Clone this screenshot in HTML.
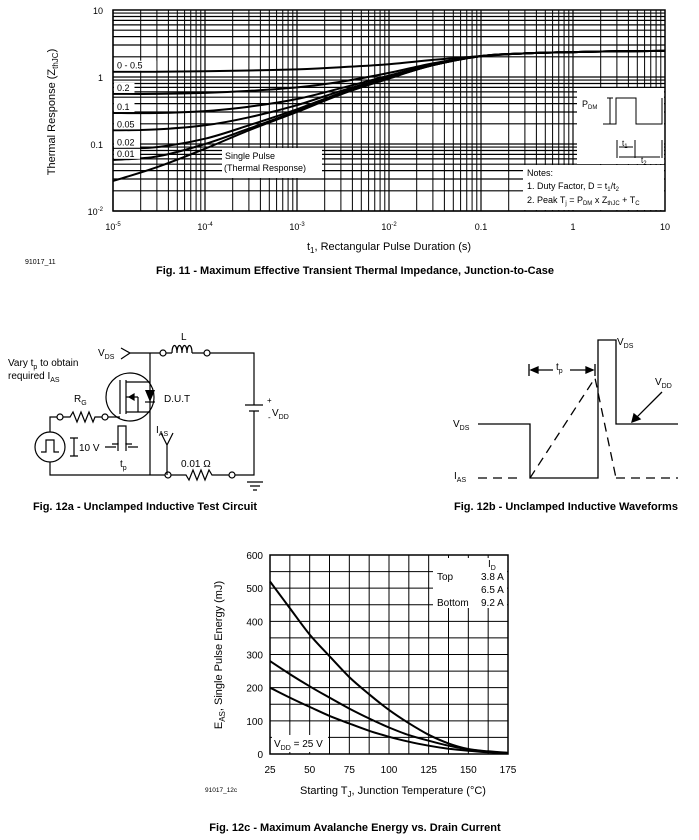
<!DOCTYPE html>
<html><head><meta charset="utf-8">
<style>
body{margin:0;background:#fff;}
svg{display:block;font-family:"Liberation Sans",Arial,sans-serif;}
</style></head>
<body>
<svg id="s" width="699" height="840" viewBox="0 0 699 840" xmlns="http://www.w3.org/2000/svg">
<g id="fig11"></g>
<g id="fig12c"></g>

<text x="55" y="112" font-size="11" text-anchor="middle" transform="rotate(-90 55 112)">Thermal Response (Z<tspan font-size="8" dy="3">thJC</tspan><tspan dy="-3">)</tspan></text>
<text x="389" y="250" font-size="11" text-anchor="middle">t<tspan font-size="8" dy="3">1</tspan><tspan dy="-3">, Rectangular Pulse Duration (s)</tspan></text>
<text x="25" y="264" font-size="7">91017_11</text>
<text x="355" y="274" font-size="11" font-weight="bold" text-anchor="middle">Fig. 11 - Maximum Effective Transient Thermal Impedance, Junction-to-Case</text>

<g stroke="#000" stroke-width="1.2" fill="none">
<path d="M121 348 L130 353 L121 359"/>
<path d="M130 353 H160 M166 353 H172 M192 353 H204 M210 353 H254 V405 M245 405 H263 M249 411 H259 M254 411 V475 H235 M229 475 H212 L209 470 L205 480 L201 470 L197 480 L193 470 L189 480 L186 475 H171 M165 475 H50 V462 M50 432 V417 H57 M63 417 H70 L73 412 L77 422 L81 412 L85 422 L89 412 L93 422 L95 417 H102"/>
<path d="M172 353 c0 -10 5 -10 5 0 c0 -10 5 -10 5 0 c0 -10 5 -10 5 0 c0 -10 5 -10 5 0"/>
<circle cx="163" cy="353" r="3" fill="#fff"/><circle cx="207" cy="353" r="3" fill="#fff"/>
<circle cx="60" cy="417" r="3" fill="#fff"/><circle cx="105" cy="417" r="3" fill="#fff"/>
<circle cx="168" cy="475" r="3" fill="#fff"/><circle cx="232" cy="475" r="3" fill="#fff"/>
<circle cx="130" cy="397" r="24"/>
<path d="M150 353 V475 M108 417 H120 M120 380 V414 M126 380 V414 M126 382 H150 M126 397 H138 M126 412 H150 M138 397 V412 M150 382 V412"/>
<path d="M145 390 L150 402 L155 390 Z" fill="#000" stroke="none"/>
<path d="M145 402 H155"/>
<path d="M129 397 L134 394 L134 400 Z" fill="#000"/>
<circle cx="50" cy="447" r="15"/>
<path d="M41 452 H46 V440 H54 V452 H59"/>
<path d="M74 438 V456 M70 438 H78 M70 456 H78"/>
<path d="M112 444 H118 V426 H126 V444 H132"/>
<path d="M105 447 H116 M118 443 V451 M126 443 V451 M128 447 H138"/>
<path d="M161 433 L167 445 L173 433 M167 445 V475"/>
<path d="M247 482 H263 M250 486 H260 M253 490 H257"/>
</g>
<g font-size="10">
<text x="98" y="356">V<tspan font-size="7" dy="3">DS</tspan></text>
<text x="181" y="340">L</text>
<text x="8" y="366">Vary t<tspan font-size="7" dy="3">p</tspan><tspan dy="-3"> to obtain</tspan></text>
<text x="8" y="379">required I<tspan font-size="7" dy="3">AS</tspan></text>
<text x="74" y="402">R<tspan font-size="7" dy="3">G</tspan></text>
<text x="164" y="402">D.U.T</text>
<text x="267" y="403" font-size="8">+</text>
<text x="272" y="416">V<tspan font-size="7" dy="3">DD</tspan></text>
<text x="268" y="420" font-size="8">-</text>
<text x="156" y="433">I<tspan font-size="7" dy="3">AS</tspan></text>
<text x="79" y="451">10 V</text>
<text x="120" y="467">t<tspan font-size="7" dy="3">p</tspan></text>
<text x="181" y="467">0.01 Ω</text>
</g>
<text x="145" y="510" font-size="11" font-weight="bold" text-anchor="middle">Fig. 12a - Unclamped Inductive Test Circuit</text>

<g stroke="#000" stroke-width="1.3" fill="none">
<path d="M478 424 H530 V478 H598 V340 H616 V424 H678"/>
<path d="M478 478 H518 M530 478 L595 378 L616 478 M616 478 H678" stroke-dasharray="9 6"/>
<path d="M529 364 V376 M595 364 V376 M531 370 H553 M570 370 H593"/>
<path d="M531 370 L538 367 L538 373 Z M593 370 L586 367 L586 373 Z" fill="#000"/>
<path d="M662 392 L634 420"/>
<path d="M632 422 L634 414 L640 419 Z" fill="#000"/>
</g>
<g font-size="10">
<text x="556" y="370">t<tspan font-size="7" dy="3">p</tspan></text>
<text x="617" y="345">V<tspan font-size="7" dy="3">DS</tspan></text>
<text x="655" y="385">V<tspan font-size="7" dy="3">DD</tspan></text>
<text x="453" y="427">V<tspan font-size="7" dy="3">DS</tspan></text>
<text x="454" y="479">I<tspan font-size="7" dy="3">AS</tspan></text>
</g>
<text x="566" y="510" font-size="11" font-weight="bold" text-anchor="middle">Fig. 12b - Unclamped Inductive Waveforms</text>

<text x="222" y="655" font-size="11" text-anchor="middle" transform="rotate(-90 222 655)">E<tspan font-size="8" dy="3">AS</tspan><tspan dy="-3">, Single Pulse Energy (mJ)</tspan></text>
<text x="393" y="794" font-size="11" text-anchor="middle">Starting T<tspan font-size="8" dy="3">J</tspan><tspan dy="-3">, Junction Temperature (°C)</tspan></text>
<text x="205" y="792" font-size="6.5">91017_12c</text>
<text x="355" y="831" font-size="11" font-weight="bold" text-anchor="middle">Fig. 12c - Maximum Avalanche Energy vs. Drain Current</text>
</svg>
<script>
const NS='http://www.w3.org/2000/svg';
const f11Times=[1e-5,3e-5,1e-4,3e-4,1e-3,3e-3,1e-2,3e-2,0.1,0.3,1,3,10];
const f11Single=[0.028,0.045,0.085,0.16,0.30,0.55,0.95,1.5,2.05,2.25,2.35,2.42,2.45];
const f11D001=[0.058,0.065,0.10,0.17,0.31,0.56,0.96,1.5,2.05,2.25,2.35,2.42,2.45];
const f11D002=[0.085,0.09,0.12,0.19,0.33,0.58,0.98,1.5,2.05,2.25,2.35,2.42,2.45];
const f11D005=[0.16,0.165,0.19,0.25,0.38,0.62,1.0,1.55,2.05,2.25,2.35,2.42,2.45];
const f11D01=[0.29,0.29,0.31,0.36,0.47,0.68,1.05,1.55,2.05,2.25,2.35,2.42,2.45];
const f11D02=[0.56,0.56,0.58,0.62,0.70,0.85,1.15,1.6,2.05,2.25,2.35,2.42,2.45];
const f11D05=[1.2,1.2,1.22,1.25,1.3,1.4,1.55,1.8,2.05,2.25,2.35,2.42,2.45];
const f11XTicks=['10-5','10-4','10-3','10-2','0.1','1','10'];
const f11YTicks=['10-2','0.1','1','10'];
const f11DutyLabels=['0 - 0.5','0.2','0.1','0.05','0.02','0.01'];

const X0=113,X1=665,YT=10,YB=211;
const lx=t=>X0+(Math.log10(t)+5)/6*(X1-X0);
const ly=z=>YB-(Math.log10(z)+2)/3*(YB-YT);
function mk(tag,attrs,parent){const e=document.createElementNS(NS,tag);for(const k in attrs)e.setAttribute(k,attrs[k]);parent.appendChild(e);return e;}
function smooth(pts){let d='M'+pts[0][0].toFixed(1)+' '+pts[0][1].toFixed(1);
 for(let i=0;i<pts.length-1;i++){const p0=pts[Math.max(0,i-1)],p1=pts[i],p2=pts[i+1],p3=pts[Math.min(pts.length-1,i+2)];
  const c1=[p1[0]+(p2[0]-p0[0])/6,p1[1]+(p2[1]-p0[1])/6],c2=[p2[0]-(p3[0]-p1[0])/6,p2[1]-(p3[1]-p1[1])/6];
  d+=' C'+c1.map(v=>v.toFixed(1)).join(' ')+' '+c2.map(v=>v.toFixed(1)).join(' ')+' '+p2[0].toFixed(1)+' '+p2[1].toFixed(1);}
 return d;}
const g11=document.getElementById('fig11');
for(let d=-5;d<1;d++)for(let m=1;m<10;m++){const x=lx(m*Math.pow(10,d));
 const l=mk('line',{x1:x,x2:x,y1:YT,y2:YB,stroke:'#000','stroke-width':m==1?1.2:1},g11);
 
 }
for(let d=-2;d<1;d++)for(let m=1;m<10;m++){const y=ly(m*Math.pow(10,d));
 const l=mk('line',{x1:X0,x2:X1,y1:y,y2:y,stroke:'#000','stroke-width':1.2},g11);
 
 }
const fr=mk('rect',{x:X0,y:YT,width:X1-X0,height:YB-YT,fill:'none',stroke:'#000','stroke-width':1.5},g11);


function box(x,y,w,h,name){const r=mk('rect',{x:x,y:y,width:w,height:h,fill:'#fff'},g11);
 
 }
box(222,148,100,30,'single-pulse-label-box');
box(523,165,141,45,'notes-box');
box(577,88,87,76,'pdm-diagram-box');
[f11Single,f11D001,f11D002,f11D005,f11D01,f11D02,f11D05].forEach((s,i)=>{
 const p=mk('path',{d:smooth(s.map((z,j)=>[lx(f11Times[j]),ly(z)])),fill:'none',stroke:'#000','stroke-width':2},g11);
 
 });
const dutyVals=[f11D05,f11D02,f11D01,f11D005,f11D002,f11D001];
f11DutyLabels.forEach((t,i)=>{const y=ly(dutyVals[i][0]);
 let w=t.length*5.5+4;
 box(114,y-11,w,10,'duty-label-box');
 const tx=mk('text',{x:117,y:y-3,'font-size':9},g11);tx.textContent=t;
 
 });
f11XTicks.forEach((t,i)=>{const x=lx(Math.pow(10,i-5));const tx=mk('text',{x:x,y:230,'font-size':9,'text-anchor':'middle'},g11);
 if(t.startsWith('10-')){tx.textContent='10';const s=mk('tspan',{dy:-4,'font-size':6},tx);s.textContent=t.slice(2);}else tx.textContent=t;
 
 });
f11YTicks.forEach((t,i)=>{const y=ly(Math.pow(10,i-2));const tx=mk('text',{x:103,y:y+4,'font-size':9,'text-anchor':'end'},g11);
 if(t.startsWith('10-')){tx.textContent='10';const s=mk('tspan',{dy:-4,'font-size':6},tx);s.textContent=t.slice(2);}else tx.textContent=t;
 
 });
g11.insertAdjacentHTML('beforeend',`
<g font-size="9">
<text x="225" y="159">Single Pulse</text><text x="224" y="171">(Thermal Response)</text>
<text x="527" y="176">Notes:</text>
<text x="527" y="189">1.  Duty Factor, D = t<tspan font-size="6" dy="2">1</tspan><tspan dy="-2">/t</tspan><tspan font-size="6" dy="2">2</tspan></text>
<text x="527" y="203">2.  Peak T<tspan font-size="6" dy="2">j</tspan><tspan dy="-2"> = P</tspan><tspan font-size="6" dy="2">DM</tspan><tspan dy="-2"> x Z</tspan><tspan font-size="6" dy="2">thJC</tspan><tspan dy="-2"> + T</tspan><tspan font-size="6" dy="2">C</tspan></text>
<text x="582" y="107">P<tspan font-size="6" dy="2">DM</tspan></text>
</g>
<g stroke="#000" fill="none" stroke-width="1">
<path d="M603 124 H616 V98 H636 V124 H662 V98"/>
<path d="M610 98 V124 M607 98 H613 M607 124 H613"/>
<path d="M617 140 V158 M635 140 V158 M662 140 V158 M619 147 H633 M619 157 H660"/>
</g>
<g font-size="8"><text x="622" y="146">t<tspan font-size="6" dy="2">1</tspan></text><text x="641" y="163">t<tspan font-size="6" dy="2">2</tspan></text></g>`);

const f12Temps=[25,37.5,50,62.5,75,87.5,100,112.5,125,137.5,150,162.5,175];
const f12Top=[520,440,360,295,232,180,133,93,58,32,15,8,4];
const f12Mid=[280,241,204,170,137,107,80,57,40,25,14,7,3];
const f12Bot=[200,170,142,115,92,70,52,37,25,16,10,5,3];
const f12XTicks=[25,50,75,100,125,150,175];
const f12YTicks=[0,100,200,300,400,500,600];
const CX0=270,CX1=508,CYT=555,CYB=754;
const cx=t=>CX0+(t-25)/150*(CX1-CX0);
const cy=v=>CYB-v/600*(CYB-CYT);
const g12=document.getElementById('fig12c');
for(let t=25;t<=175;t+=12.5){const l=mk('line',{x1:cx(t),x2:cx(t),y1:CYT,y2:CYB,stroke:'#000','stroke-width':1},g12);
 
 }
for(let v=0;v<=600;v+=50){const l=mk('line',{x1:CX0,x2:CX1,y1:cy(v),y2:cy(v),stroke:'#000','stroke-width':1},g12);
 
 }
const fr2=mk('rect',{x:CX0,y:CYT,width:CX1-CX0,height:CYB-CYT,fill:'none',stroke:'#000','stroke-width':1.5},g12);


const lb=mk('rect',{x:433,y:558,width:74,height:50,fill:'#fff'},g12);


const vb=mk('rect',{x:272,y:735,width:56,height:17,fill:'#fff'},g12);


[f12Top,f12Mid,f12Bot].forEach((s,i)=>{
 const p=mk('path',{d:smooth(s.map((v,j)=>[cx(f12Temps[j]),cy(v)])),fill:'none',stroke:'#000','stroke-width':2},g12);
 
 });
f12XTicks.forEach(t=>{const tx=mk('text',{x:cx(t),y:773,'font-size':10,'text-anchor':'middle'},g12);tx.textContent=t;
 
 });
f12YTicks.forEach(v=>{const tx=mk('text',{x:263,y:cy(v)+4,'font-size':10,'text-anchor':'end'},g12);tx.textContent=v;
 
 });
g12.insertAdjacentHTML('beforeend',`<g font-size="10">
<text x="488" y="567">I<tspan font-size="7" dy="3">D</tspan></text>
<text x="437" y="580">Top</text><text x="481" y="580">3.8 A</text>
<text x="481" y="593">6.5 A</text>
<text x="437" y="606">Bottom</text><text x="481" y="606">9.2 A</text>
<text x="274" y="747">V<tspan font-size="7" dy="3">DD</tspan><tspan dy="-3"> = 25 V</tspan></text></g>`);
</script>
</body></html>
